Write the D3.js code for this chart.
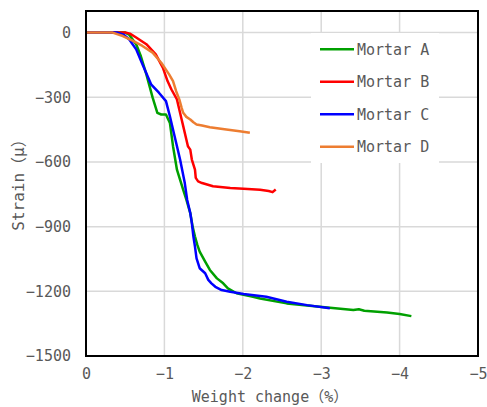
<!DOCTYPE html>
<html>
<head>
<meta charset="utf-8">
<script src="https://cdn.jsdelivr.net/npm/d3@7"></script>
<style>
  body { margin: 0; background: #fff; }
  text { font-family: "DejaVu Sans Mono", "Noto Sans CJK JP", monospace; fill: #595959; }
</style>
</head>
<body>
<div id="chart"></div>
<script>
// data
var seriesNames = ["Mortar A", "Mortar B", "Mortar C", "Mortar D"];
var seriesColors = ["#00a000", "#ff0000", "#0000ff", "#ed7d31"];

var mortarAx = [0, -0.5, -0.55, -0.64, -0.70, -0.77, -0.85, -0.91, -0.96, -1.02, -1.07, -1.11, -1.16, -1.24, -1.28, -1.33, -1.36, -1.39, -1.42, -1.45, -1.52, -1.58, -1.67, -1.75, -1.81, -1.92, -2.13, -2.22, -2.56, -2.98, -3.41, -3.48, -3.55, -3.84, -4.0, -4.15];
var mortarAy = [0, 0, -10, -54, -110, -194, -302, -372, -380, -380, -419, -527, -636, -729, -775, -837, -900, -946, -985, -1016, -1062, -1101, -1140, -1163, -1186, -1209, -1225, -1233, -1256, -1272, -1287, -1283, -1290, -1298, -1305, -1315];

var mortarBx = [0, -0.5, -0.56, -0.64, -0.77, -0.89, -0.98, -1.04, -1.09, -1.16, -1.19, -1.22, -1.24, -1.28, -1.30, -1.33, -1.35, -1.39, -1.40, -1.43, -1.48, -1.62, -1.84, -2.01, -2.22, -2.33, -2.38, -2.42];
var mortarBy = [0, 0, -5, -23, -54, -101, -163, -225, -264, -310, -357, -403, -434, -496, -527, -543, -589, -636, -674, -690, -698, -713, -721, -724, -729, -735, -740, -728];

var mortarCx = [0, -0.40, -0.48, -0.55, -0.64, -0.72, -0.83, -0.93, -1.02, -1.07, -1.13, -1.20, -1.26, -1.29, -1.33, -1.35, -1.37, -1.39, -1.41, -1.45, -1.52, -1.56, -1.60, -1.65, -1.73, -1.84, -2.01, -2.30, -2.56, -2.82, -3.11];
var mortarCy = [0, 0, -10, -31, -78, -147, -240, -279, -318, -388, -481, -589, -698, -775, -837, -884, -946, -993, -1047, -1093, -1116, -1147, -1163, -1179, -1194, -1202, -1212, -1225, -1248, -1264, -1279];

var mortarDx = [0, -0.34, -0.47, -0.60, -0.72, -0.85, -0.96, -1.06, -1.11, -1.15, -1.19, -1.22, -1.24, -1.28, -1.33, -1.37, -1.41, -1.48, -1.58, -1.79, -1.96, -2.09];
var mortarDy = [0, 0, -16, -39, -62, -93, -140, -194, -225, -272, -310, -349, -372, -391, -403, -416, -426, -431, -439, -450, -458, -465];

var xTicks = [0, -1, -2, -3, -4, -5];
var yTicks = [0, -300, -600, -900, -1200, -1500];

var width = 487;
var height = 407;
var marginleft = 86;
var marginright = 9;
var margintop = 11;
var marginbottom = 51;

var svg = d3.select("#chart")
    .append("svg")
    .attr("width", width)
    .attr("height", height);

var x = d3.scaleLinear()
    .domain([0, -5])
    .range([marginleft, width - marginright]);

var y = d3.scaleLinear()
    .domain([-1500, 100])
    .range([height - marginbottom, margintop]);

// grid
svg.append("g")
    .selectAll("line")
    .data(xTicks.slice(1, -1))
    .enter()
    .append("line")
      .attr("x1", function (d) { return x(d); })
      .attr("x2", function (d) { return x(d); })
      .attr("y1", margintop)
      .attr("y2", height - marginbottom)
      .attr("stroke", "#d9d9d9")
      .attr("stroke-width", 1.5);

svg.append("g")
    .selectAll("line")
    .data(yTicks.slice(0, -1))
    .enter()
    .append("line")
      .attr("x1", marginleft)
      .attr("x2", width - marginright)
      .attr("y1", function (d) { return y(d); })
      .attr("y2", function (d) { return y(d); })
      .attr("stroke", "#d9d9d9")
      .attr("stroke-width", 1.5);

// axes (labels only, no tick marks)
var xAxis = svg.append("g")
    .attr("transform", "translate(0," + (height - marginbottom) + ")")
    .call(d3.axisBottom(x).tickValues(xTicks).tickSize(0).tickPadding(12).tickFormat(d3.format("d")));
xAxis.select(".domain").remove();
xAxis.selectAll("text").style("font-size", "15px").attr("fill", "#595959");

var yAxis = svg.append("g")
    .attr("transform", "translate(" + marginleft + ",0)")
    .call(d3.axisLeft(y).tickValues(yTicks).tickSize(0).tickPadding(15).tickFormat(d3.format("d")));
yAxis.select(".domain").remove();
yAxis.selectAll("text").style("font-size", "15px").attr("fill", "#595959");

// lines
var series = [
  { name: seriesNames[0], xs: mortarAx, ys: mortarAy, color: seriesColors[0] },
  { name: seriesNames[1], xs: mortarBx, ys: mortarBy, color: seriesColors[1] },
  { name: seriesNames[2], xs: mortarCx, ys: mortarCy, color: seriesColors[2] },
  { name: seriesNames[3], xs: mortarDx, ys: mortarDy, color: seriesColors[3] }
];

var line = d3.line()
    .x(function (d) { return x(d[0]); })
    .y(function (d) { return y(d[1]); });

svg.append("g")
    .selectAll("path")
    .data(series)
    .enter()
    .append("path")
      .attr("d", function (s) { return line(d3.zip(s.xs, s.ys)); })
      .attr("fill", "none")
      .attr("stroke", function (s) { return s.color; })
      .attr("stroke-width", 2.5)
      .attr("stroke-linejoin", "round");

// plot border
svg.append("rect")
    .attr("x", marginleft)
    .attr("y", margintop)
    .attr("width", width - marginleft - marginright)
    .attr("height", height - margintop - marginbottom)
    .attr("fill", "none")
    .attr("stroke", "#000")
    .attr("stroke-width", 2);

// legend
var legend = svg.append("g");
legend.append("rect")
    .attr("x", 311)
    .attr("y", 33)
    .attr("width", 128)
    .attr("height", 130)
    .attr("fill", "#fff");

var item = legend.selectAll("g")
    .data(series)
    .enter()
    .append("g")
      .attr("transform", function (d, i) { return "translate(320," + (49.3 + i * 32.5) + ")"; });

item.append("line")
    .attr("x1", 0)
    .attr("x2", 34)
    .attr("stroke", function (d) { return d.color; })
    .attr("stroke-width", 2.5);

item.append("text")
    .attr("x", 37)
    .attr("dy", "0.36em")
    .style("font-size", "15px")
    .text(function (d) { return d.name; });

// axis titles
svg.append("text")
    .attr("x", 270)
    .attr("y", 402)
    .attr("text-anchor", "middle")
    .style("font-size", "15px")
    .text("Weight change（%）");

svg.append("text")
    .attr("transform", "translate(24,181) rotate(-90)")
    .attr("text-anchor", "middle")
    .style("font-size", "16px")
    .text("Strain（μ）");
</script>
</body>
</html>
